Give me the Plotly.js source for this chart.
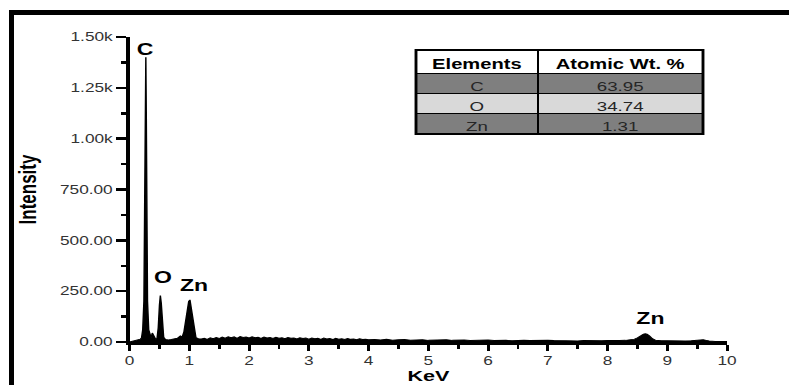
<!DOCTYPE html>
<html><head><meta charset="utf-8">
<script src="https://cdn.plot.ly/plotly-3.0.1.min.js"></script>
<style>
html,body{margin:0;padding:0;overflow:hidden;background:#fff;}
#chart{width:548px;height:385px;transform-origin:0 0;}
</style></head><body><div id="chart"></div>
<script>
// EDS spectrum (energy in keV, intensity in counts)
const keV = [0,0.05,0.10,0.15,0.18,0.20,0.22,0.24,0.255,0.265,0.272,0.28,0.29,0.30,0.32,0.34,0.36,0.38,0.40,0.42,0.44,0.46,0.48,0.50,0.515,0.53,0.55,0.57,0.60,0.65,0.70,0.75,0.80,0.85,0.88,0.91,0.94,0.97,0.99,1.01,1.03,1.05,1.08,1.11,1.15,
1.20,1.25,1.30,1.35,1.40,1.45,1.50,1.55,1.60,1.65,1.70,1.75,1.80,1.85,1.90,1.95,2.00,2.05,2.10,2.15,2.20,2.25,2.30,2.35,2.40,2.45,2.50,2.55,2.60,2.65,2.70,2.75,2.80,2.85,2.90,2.95,3.00,3.05,3.10,3.15,3.20,3.25,3.30,3.35,3.40,3.45,3.50,3.55,3.60,3.65,3.70,3.75,3.80,3.85,3.90,3.95,4.00,
4.1,4.2,4.3,4.4,4.5,4.6,4.7,4.8,4.9,5.0,5.1,5.2,5.3,5.4,5.5,5.6,5.7,5.8,5.9,6.0,6.1,6.2,6.3,6.4,6.5,6.6,6.7,6.8,6.9,7.0,7.1,7.2,7.3,7.4,7.5,7.6,7.7,7.8,7.9,8.0,8.1,8.2,8.3,8.4,
8.45,8.50,8.55,8.60,8.63,8.66,8.70,8.75,8.80,8.85,8.90,9.0,9.1,9.2,9.3,9.4,9.5,9.55,9.6,9.65,9.7,9.8,9.9,10.0];
const counts = [0,4,8,10,14,20,60,200,600,1150,1400,1100,550,200,60,30,22,44,30,16,12,18,70,180,228,190,70,24,12,10,12,14,18,30,24,50,120,185,200,207,170,110,45,22,16,
15,18,13,20,16,22,17,24,19,26,21,25,18,27,22,24,20,26,21,23,18,24,20,22,17,23,19,21,16,22,18,20,15,21,17,19,14,20,16,18,13,19,15,17,12,18,14,16,12,17,13,15,11,16,12,14,11,
12,10,13,9,11,12,9,10,11,8,10,9,11,8,9,10,7,9,8,10,7,9,8,6,8,9,7,8,6,8,7,6,8,7,5,7,6,8,6,7,6,7,8,10,
14,20,30,38,40,38,30,16,9,7,6,6,5,6,5,6,8,10,11,8,5,3,2,2];

const xTickVals = [0,1,2,3,4,5,6,7,8,9,10];
const yTickVals = [0,250,500,750,1000,1250,1500];
const yTickText = ['0.00','250.00','500.00','750.00','1.00k','1.25k','1.50k'];
const xTitle = 'KeV';
const yTitle = 'Intensity';

const peakLabels = ['C','O','Zn','Zn'];
const peakLabelKeV = [0.27,0.546,1.083,8.727];
const peakLabelCounts = [1438,316,278,118];

const tableHeader = ['Elements','Atomic Wt. %'];
const tableElements = ['C','O','Zn'];
const tableAtomicWt = [63.95,34.74,1.31];

// geometry helpers (reference pixels -> paper coords)
const S = 789/548, L = 90, R = 43, T = 37, B = 43, W = 548, H = 385;
const PW = W - L - R, PH = H - T - B;
const px = x => (x / S - L) / PW;
const py = y => (T + PH - y) / PH;

const FONT = 'Arial, "Liberation Sans", sans-serif';
const rowFills = ['#7f7f7f','#d9d9d9','#7f7f7f'];

const spectrum = {
  type: 'scatter', mode: 'lines', x: keV, y: counts,
  line: {color: '#000', width: 1}, fill: 'tozeroy', fillcolor: '#000',
  hoverinfo: 'skip', showlegend: false
};

const table = {
  type: 'table',
  domain: {x: [px(416), px(703)], y: [py(134), py(50)]},
  columnwidth: [122, 165],
  header: {
    // non-breaking spaces keep the header on one line (no auto-wrap)
    values: tableHeader.map(h => [h.replace(/ /g, '\u00a0')]),
    align: 'center', height: 23,
    fill: {color: '#ffffff'},
    line: {color: '#000', width: 1},
    font: {family: FONT, size: 14, color: '#000', weight: 'bold'}
  },
  cells: {
    values: [tableElements, tableAtomicWt.map(v => v.toFixed(2))],
    align: 'center', height: 20.3,
    fill: {color: [rowFills, rowFills]},
    line: {color: '#000', width: 1},
    font: {family: FONT, size: 13, color: '#262626'}
  }
};

const annotations = peakLabels.map((t, i) => ({
  x: peakLabelKeV[i], y: peakLabelCounts[i], xref: 'x', yref: 'y',
  text: t, showarrow: false, xanchor: 'center', yanchor: 'middle',
  font: {family: FONT, size: 16, color: '#000', weight: 'bold'}
}));
// x-axis title, placed low as in the reference
annotations.push({
  x: 0.5, y: py(385), xref: 'paper', yref: 'paper', text: xTitle, showarrow: false,
  xanchor: 'center', yanchor: 'bottom', borderpad: 0,
  font: {family: FONT, size: 15, color: '#000', weight: 'bold'}
});

const shapes = [
  {type: 'rect', xref: 'paper', yref: 'paper', x0: px(9), x1: px(14), y0: py(395), y1: py(10),
   fillcolor: '#000', line: {width: 0}, layer: 'above'},
  {type: 'rect', xref: 'paper', yref: 'paper', x0: px(9), x1: px(800), y0: py(15), y1: py(10),
   fillcolor: '#000', line: {width: 0}, layer: 'above'},
  {type: 'rect', xref: 'paper', yref: 'paper', x0: px(416), x1: px(703), y0: py(134), y1: py(50),
   fillcolor: 'rgba(0,0,0,0)', line: {color: '#000', width: 2}, layer: 'above'}
];

const layout = {
  width: W, height: H,
  margin: {l: L, r: R, t: T, b: B, pad: 0},
  paper_bgcolor: '#fff', plot_bgcolor: '#fff',
  showlegend: false,
  xaxis: {
    range: [0, 10], tickmode: 'array', tickvals: xTickVals,
    showgrid: false, zeroline: false,
    showline: true, linecolor: '#000', linewidth: 2.5,
    ticks: 'outside', ticklen: 6, tickwidth: 2, tickcolor: '#000',
    minor: {ticks: 'outside', dtick: 0.5, ticklen: 4, tickwidth: 2, tickcolor: '#000'},
    tickfont: {family: FONT, size: 12, color: '#333'}
  },
  yaxis: {
    range: [0, 1500], tickmode: 'array', tickvals: yTickVals, ticktext: yTickText,
    showgrid: false, zeroline: false,
    showline: true, linecolor: '#000', linewidth: 2.3,
    ticks: 'outside', ticklen: 7, tickwidth: 2.5, tickcolor: '#000',
    minor: {ticks: 'outside', dtick: 125, ticklen: 4, tickwidth: 2.5, tickcolor: '#000'},
    tickfont: {family: FONT, size: 12, color: '#333'},
    title: {text: yTitle, standoff: 12,
      font: {family: '"Liberation Sans Narrow", "Arial Narrow", Arial, sans-serif', size: 17, color: '#000', weight: 'bold'}}
  },
  annotations: annotations,
  shapes: shapes
};

const gd = document.getElementById('chart');
Plotly.newPlot(gd, [spectrum, table], layout, {displayModeBar: false, staticPlot: true})
  .then(() => { gd.style.transform = 'scaleX(' + S + ')'; });
</script></body></html>
